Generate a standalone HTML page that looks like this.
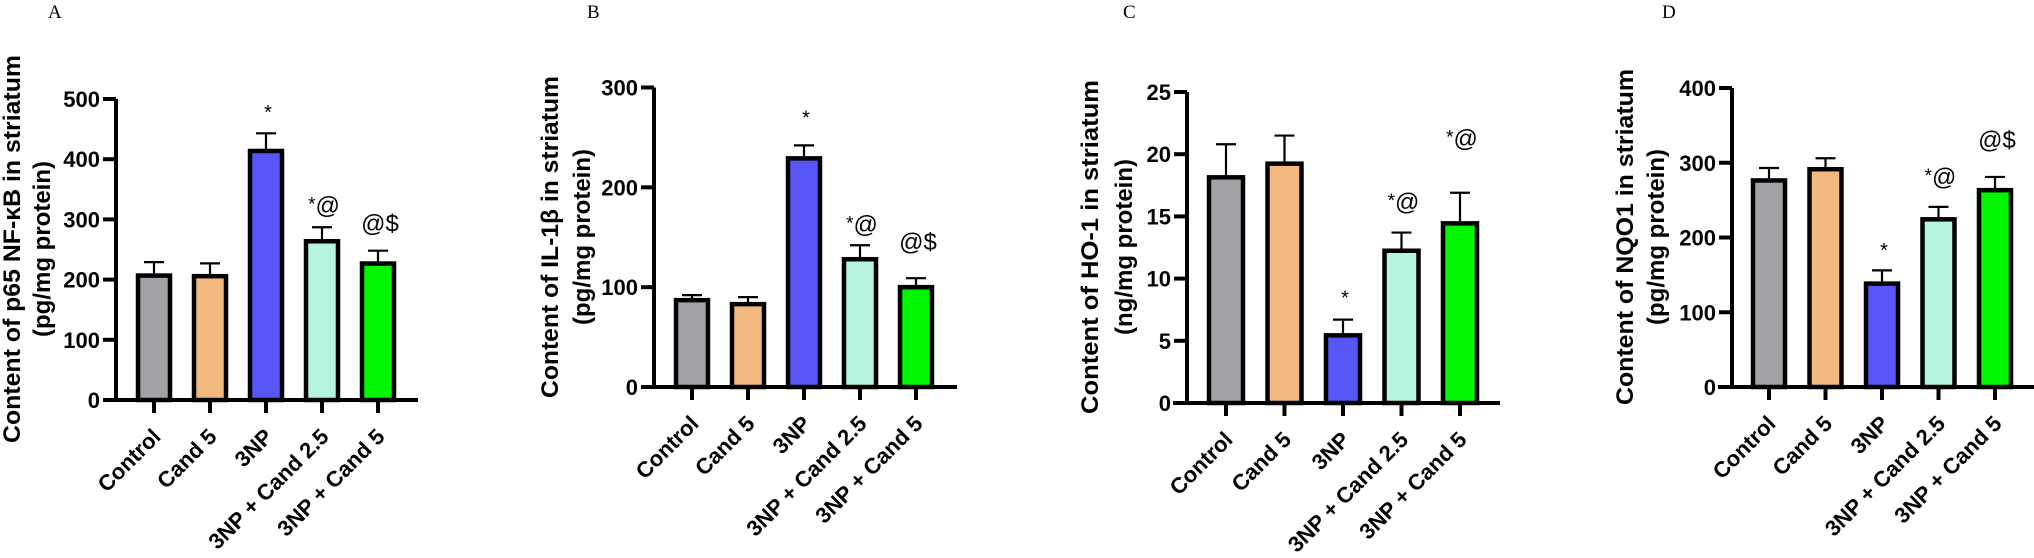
<!DOCTYPE html>
<html><head><meta charset="utf-8"><style>
html,body{margin:0;padding:0;background:#fff;}
svg{display:block;}
</style></head><body>
<svg id="fig" width="2034" height="558" viewBox="0 0 2034 558" xmlns="http://www.w3.org/2000/svg" font-family="Liberation Sans, Arial, sans-serif"></svg>
<script>
// ---- data ----
const categories = ["Control","Cand 5","3NP","3NP + Cand 2.5","3NP + Cand 5"];
const colors = ["#a2a1a6","#f2b87f","#5757f7","#b5f5df","#00f500"];

const aValues = [210, 209, 417, 267, 230];
const aErrors = [229, 227, 443, 287, 248];
const aTicks = [0,100,200,300,400,500];
const aMarks = ["", "", "*", "*@", "@$"];
const aMarkY = [0, 0, 467, 310, 280];

const bValues = [89, 85, 231, 130, 102];
const bErrors = [92, 90, 242, 142, 109];
const bTicks = [0,100,200,300];
const bMarks = ["", "", "*", "*@", "@$"];
const bMarkY = [0, 0, 263, 155, 137];

const cValues = [18.3, 19.4, 5.6, 12.4, 14.6];
const cErrors = [20.8, 21.5, 6.7, 13.7, 16.9];
const cTicks = [0,5,10,15,20,25];
const cMarks = ["", "", "*", "*@", "*@"];
const cMarkY = [0, 0, 7.9, 15.5, 20.6];

const dValues = [279, 294, 141, 227, 266];
const dErrors = [293, 306, 156, 241, 281];
const dTicks = [0,100,200,300,400];
const dMarks = ["", "", "*", "*@", "@$"];
const dMarkY = [0, 0, 174, 270, 320];

const NS = "http://www.w3.org/2000/svg";
const svg = document.getElementById('fig');
function mk(tag, attrs, parent){
  const e = document.createElementNS(NS, tag);
  for (const k in attrs) e.setAttribute(k, attrs[k]);
  (parent||svg).appendChild(e);
  return e;
}

const panels = [
  {id:'a', letter:'A', lx:48, ax:116, x0:105, x1:418, yTop:99, yZero:400, max:500, c0:154, step:56, bw:36,
   t1:"Content of p65 NF-\u03BAB in striatum", t2:"(pg/mg protein)", t1x:20, t2x:50, tcy:249, t1len:388,
   vals:aValues, errs:aErrors, ticks:aTicks, marks:aMarks, markY:aMarkY},
  {id:'b', letter:'B', lx:587, ax:654, x0:642, x1:957, yTop:87.5, yZero:387, max:300, c0:692, step:56, bw:36,
   t1:"Content of IL-1\u03B2 in striatum", t2:"(pg/mg protein)", t1x:558, t2x:590, tcy:237, t1len:322,
   vals:bValues, errs:bErrors, ticks:bTicks, marks:bMarks, markY:bMarkY},
  {id:'c', letter:'C', lx:1123, ax:1187, x0:1173, x1:1500, yTop:92, yZero:403, max:25, c0:1226, step:58.5, bw:38,
   t1:"Content of HO-1 in striatum", t2:"(ng/mg protein)", t1x:1098, t2x:1132, tcy:247, t1len:334,
   vals:cValues, errs:cErrors, ticks:cTicks, marks:cMarks, markY:cMarkY},
  {id:'d', letter:'D', lx:1662, ax:1732, x0:1718, x1:2034, yTop:88, yZero:387, max:400, c0:1769, step:56.5, bw:36,
   t1:"Content of NQO1 in striatum", t2:"(pg/mg protein)", t1x:1633, t2x:1664, tcy:237, t1len:336,
   vals:dValues, errs:dErrors, ticks:dTicks, marks:dMarks, markY:dMarkY}
];

panels.forEach(p => {
  const g = mk('g', {});
  
  
  const y = v => p.yZero - (v / p.max) * (p.yZero - p.yTop);
  const x = i => p.c0 + i * p.step;

  const lt = mk('text', {x:p.lx, y:18, 'font-family':'Liberation Serif, serif', 'font-size':19, fill:'#000'}, g);
  lt.textContent = p.letter;
  
  

  const t1 = mk('text', {x:p.t1x, y:p.tcy, transform:`rotate(-90 ${p.t1x} ${p.tcy})`, 'text-anchor':'middle', 'font-weight':'bold', 'font-size':24, textLength:p.t1len, lengthAdjust:'spacingAndGlyphs'}, g);
  t1.textContent = p.t1;
  
  
  const t2 = mk('text', {x:p.t2x, y:p.tcy, transform:`rotate(-90 ${p.t2x} ${p.tcy})`, 'text-anchor':'middle', 'font-weight':'bold', 'font-size':24}, g);
  t2.textContent = p.t2;
  
  

  p.vals.forEach((v, i) => {
    const cx = x(i);
    const el = mk('line', {x1:cx, x2:cx, y1:y(v), y2:y(p.errs[i]), stroke:'#000', 'stroke-width':2.2}, g);
    
    
    const cap = mk('line', {x1:cx-10, x2:cx+10, y1:y(p.errs[i]), y2:y(p.errs[i]), stroke:'#000', 'stroke-width':2.2}, g);
    
    
    const r = mk('rect', {x:cx - p.bw/2 + 2, y:y(v) + 2, width:p.bw - 4, height:p.yZero - y(v) - 2, fill:colors[i], stroke:'#000', 'stroke-width':4.5}, g);
    
    
    if (p.marks[i]) {
      const m = mk('text', {x:cx + 2, y:y(p.markY[i]), 'text-anchor':'middle', 'font-size':24, fill:'#000'}, g);
      
      
      const s = p.marks[i];
      if (s === '*') { m.setAttribute('font-size', 20); m.textContent = '*'; }
      else if (s[0] === '*') {
        const a = mk('tspan', {'font-size':19, dy:-3}, m); a.textContent = '*';
        const b = mk('tspan', {dy:3}, m); b.textContent = s.slice(1);
      } else m.textContent = s;
    }
  });

  const ya = mk('line', {x1:p.ax, x2:p.ax, y1:p.yTop, y2:p.yZero, stroke:'#000', 'stroke-width':4}, g);
  
  
  const xa = mk('line', {x1:p.x0, x2:p.x1, y1:p.yZero, y2:p.yZero, stroke:'#000', 'stroke-width':4}, g);
  
  

  p.ticks.forEach(t => {
    const ty = y(t);
    mk('line', {x1:p.ax - 13, x2:p.ax, y1:ty, y2:ty, stroke:'#000', 'stroke-width':4}, g);
    const tl = mk('text', {x:p.ax - 16, y:ty + 8, 'text-anchor':'end', 'font-weight':'bold', 'font-size':22}, g);
    tl.textContent = t;
    
    
  });

  categories.forEach((c, i) => {
    const cx = x(i);
    mk('line', {x1:cx, x2:cx, y1:p.yZero, y2:p.yZero + 13, stroke:'#000', 'stroke-width':4}, g);
    const ax = cx + 8, ay = p.yZero + 38;
    const xl = mk('text', {x:ax, y:ay, transform:`rotate(-45 ${ax} ${ay})`, 'text-anchor':'end', 'font-weight':'bold', 'font-size':22}, g);
    xl.textContent = c;
    
    
  });
});
</script>
</body></html>
